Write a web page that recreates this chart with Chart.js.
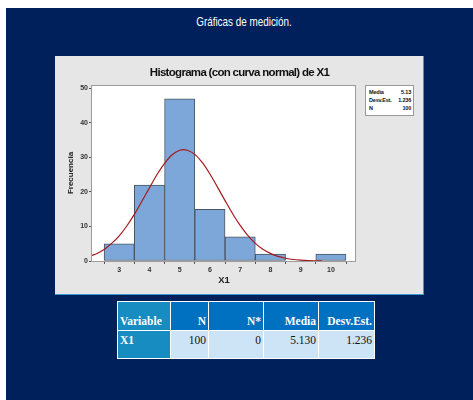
<!DOCTYPE html>
<html>
<head>
<meta charset="utf-8">
<script src="https://cdn.jsdelivr.net/npm/chart.js@4/dist/chart.umd.min.js"></script>
<style>
  body { margin: 0; background: #fff; width: 473px; height: 400px; overflow: hidden; position: relative; font-family: 'Liberation Sans', Arial, sans-serif; }
  #fondo { position: absolute; left: 6px; top: 8px; right: 0; bottom: 0; background: #00205b; }
  #titulo { position: absolute; left: 144px; top: 14px; width: 200px; text-align: center; color: #fff; font-size: 13px; transform: scaleX(0.76); transform-origin: center; }
  #panel { position: absolute; left: 55px; top: 56px; width: 368px; height: 238px; background: #e6e6e6; border-right: 1px solid #3d9ad1; border-bottom: 1px solid #3d9ad1; }
  #panel canvas { position: absolute; left: 0; top: 0; }
  #tituloHist { position: absolute; left: 0; top: 10px; width: 369px; text-align: center; font-weight: bold; font-size: 11.5px; letter-spacing: -0.7px; color: #111; }
  #leyenda { position: absolute; left: 310px; top: 29px; width: 47px; height: 27px; background: #fff; border: 1px solid #9a9a9a; font-size: 5.5px; font-weight: bold; letter-spacing: -0.2px; color: #111; padding-top: 2px; box-sizing: content-box; }
  #leyenda div { display: flex; justify-content: space-between; padding: 0 2px 0 3px; height: 8px; line-height: 8px; }
  #tabla { position: absolute; left: 117px; top: 301px; border-collapse: collapse; font-family: 'Liberation Serif', 'Times New Roman', serif; font-size: 11.5px; border: 1px solid #3d9ad1; }
  #tabla td { border: 1px solid #fff; padding: 0 2px; text-align: right; }
  #tabla tr.cab td { height: 25px; vertical-align: bottom; padding-bottom: 3px; background: #0070c0; color: #fff; font-weight: bold; }
  #tabla tr.fila td { height: 24px; vertical-align: top; padding-top: 3px; background: #cde3f6; color: #111; }
  #tabla td.primera { text-align: left; background: #168cc0 !important; color: #fff !important; font-weight: bold; }
</style>
</head>
<body>
<div id="fondo"></div>
<div id="titulo">Gráficas de medición.</div>
<div id="panel">
  <canvas id="histograma" width="369" height="239"></canvas>
  <div id="tituloHist">Histograma (con curva normal) de X1</div>
  <div id="leyenda">
    <div><span>Media</span><span>5.13</span></div>
    <div><span>Desv.Est.</span><span>1.236</span></div>
    <div><span>N</span><span>100</span></div>
  </div>
</div>
<table id="tabla">
  <tr class="cab"><td class="primera" style="width:48px">Variable</td><td style="width:33px">N</td><td style="width:50px">N*</td><td style="width:50px">Media</td><td style="width:51px">Desv.Est.</td></tr>
  <tr class="fila"><td class="primera">X1</td><td>100</td><td>0</td><td>5.130</td><td>1.236</td></tr>
</table>

<script>
// clases del histograma (punto medio) y frecuencias
const clases = [3, 4, 5, 6, 7, 8, 9, 10];
const frecuencias = [5, 22, 47, 15, 7, 2, 0, 2];

// curva normal ajustada (media 5.13, desv. 1.236), leida punto a punto
const curvaX = [2.1, 2.25, 2.5, 2.75, 3, 3.25, 3.5, 3.75, 4, 4.25, 4.5, 4.75, 5, 5.13, 5.25, 5.5, 5.75, 6, 6.25, 6.5, 6.75, 7, 7.25, 7.5, 7.75, 8, 8.25, 8.5, 8.75, 9, 9.25, 9.5, 9.7];
const curvaY = [1.6, 2.1, 3.35, 5.1, 7.3, 10.15, 13.5, 17.3, 21.2, 25.05, 28.3, 30.8, 32.1, 32.3, 32.1, 30.9, 28.5, 25.2, 21.4, 17.5, 13.7, 10.3, 7.4, 5.1, 3.4, 2.2, 1.33, 0.8, 0.44, 0.24, 0.12, 0.06, 0.03];

const ticksY = [0, 10, 20, 30, 40, 50];
const ticksX = [3, 4, 5, 6, 7, 8, 9, 10];

Chart.defaults.font.family = "'Liberation Sans', Arial, sans-serif";

// fondo blanco y marco gris del area de trazado
const marco = {
    id: 'marco',
    beforeDraw(chart) {
        const a = chart.chartArea;
        const ctx = chart.ctx;
        ctx.save();
        ctx.fillStyle = '#ffffff';
        ctx.fillRect(a.left, a.top, a.right - a.left, a.bottom - a.top);
        ctx.restore();
    },
    afterDraw(chart) {
        const a = chart.chartArea;
        const ctx = chart.ctx;
        ctx.save();
        ctx.strokeStyle = '#9c9c9c';
        ctx.lineWidth = 1;
        ctx.strokeRect(Math.round(a.left) - 0.5, Math.round(a.top) + 0.5, Math.round(a.right - a.left), Math.round(a.bottom - a.top));
        ctx.restore();
    }
};

new Chart("histograma", {
    data: {
        datasets: [{
            type: 'line',
            data: curvaX.map((x, i) => ({ x: x, y: curvaY[i] })),
            borderColor: '#a31a1e',
            borderWidth: 1.2,
            pointRadius: 0,
            cubicInterpolationMode: 'monotone',
            order: 0
        }, {
            type: 'bar',
            data: clases.map((x, i) => ({ x: x, y: frecuencias[i] })),
            backgroundColor: '#7ea7d9',
            borderColor: '#4b5563',
            borderWidth: 1,
            borderSkipped: false,
            barPercentage: 1,
            categoryPercentage: 1,
            order: 1
        }]
    },
    options: {
        responsive: false,
        animation: false,
        layout: { padding: { top: 29, right: 68, left: 0, bottom: 0 } },
        plugins: {
            legend: { display: false },
            tooltip: { enabled: false }
        },
        scales: {
            x: {
                type: 'linear',
                offset: false,
                min: 2.1,
                max: 10.83,
                afterBuildTicks: (s) => { s.ticks = ticksX.map(v => ({ value: v })); },
                afterFit: (s) => { s.height = 34; },
                ticks: { font: { size: 7, weight: 'bold' }, color: '#333', padding: 2 },
                grid: { drawOnChartArea: false, tickLength: 3, color: '#555' },
                border: { display: false },
                title: { display: true, text: 'X1', font: { size: 9.5, weight: 'bold' }, color: '#222', padding: { top: 0, bottom: 9 } }
            },
            y: {
                min: 0,
                max: 51,
                afterBuildTicks: (s) => { s.ticks = ticksY.map(v => ({ value: v })); },
                afterFit: (s) => { s.width = 37; },
                ticks: { font: { size: 7, weight: 'bold' }, color: '#333', padding: 1 },
                grid: { drawOnChartArea: false, tickLength: 3, color: '#555' },
                border: { display: false },
                title: { display: true, text: 'Frecuencia', font: { size: 8, weight: 'bold' }, color: '#222', padding: { top: 11, bottom: 0 } }
            }
        }
    },
    plugins: [marco]
});
</script>
</body>
</html>
